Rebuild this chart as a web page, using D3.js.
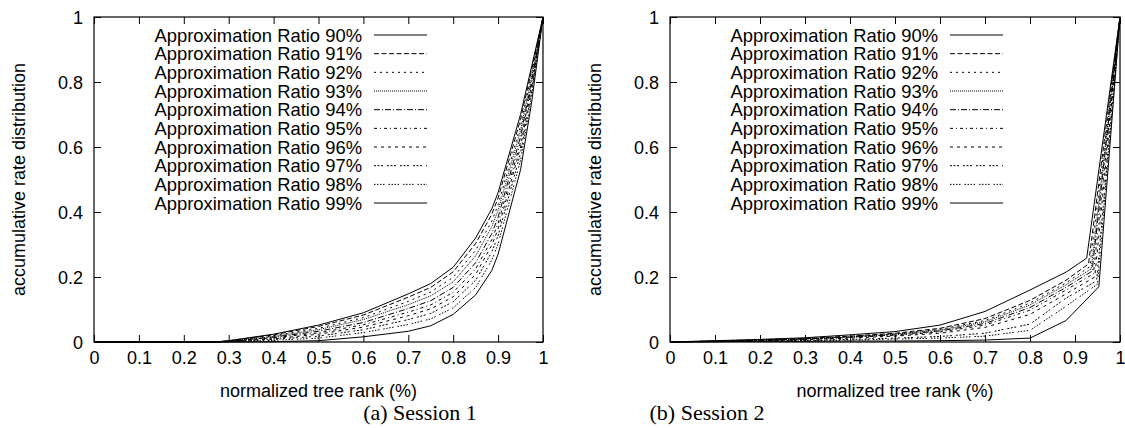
<!DOCTYPE html>
<html>
<head>
<meta charset="utf-8">
<script src="https://cdn.jsdelivr.net/npm/d3@7"></script>
<style>
  html, body { margin: 0; padding: 0; background: #fff; }
  svg { display: block; }
  text { font-family: "Liberation Sans", Arial, sans-serif; fill: #000; }
  .caption { font-family: "Liberation Serif", "Times New Roman", serif; }
</style>
</head>
<body>
<svg id="chart" width="1125" height="428"></svg>
<script>
// ---- data -------------------------------------------------------------
const ratios = [90, 91, 92, 93, 94, 95, 96, 97, 98, 99];
const xTicks = [0, 0.1, 0.2, 0.3, 0.4, 0.5, 0.6, 0.7, 0.8, 0.9, 1];
const yTicks = [0, 0.2, 0.4, 0.6, 0.8, 1];

// Session 1: normalized tree rank grid and accumulative rate per ratio
const rankS1 = [0, 0.1, 0.2, 0.27, 0.3, 0.4, 0.5, 0.6, 0.7, 0.75, 0.8, 0.85, 0.886, 0.9, 0.95, 0.975, 1];
const s1_90 = [0, 0, 0, 0, 0.004, 0.024, 0.052, 0.090, 0.148, 0.180, 0.230, 0.320, 0.410, 0.460, 0.700, 0.850, 1];
const s1_91 = [0, 0, 0, 0, 0.004, 0.022, 0.048, 0.083, 0.138, 0.168, 0.216, 0.303, 0.393, 0.443, 0.685, 0.840, 1];
const s1_92 = [0, 0, 0, 0, 0.003, 0.019, 0.042, 0.075, 0.125, 0.154, 0.199, 0.282, 0.372, 0.422, 0.666, 0.828, 1];
const s1_93 = [0, 0, 0, 0, 0.003, 0.017, 0.038, 0.069, 0.115, 0.142, 0.185, 0.265, 0.355, 0.405, 0.651, 0.818, 1];
const s1_94 = [0, 0, 0, 0, 0.002, 0.015, 0.033, 0.060, 0.103, 0.127, 0.168, 0.244, 0.334, 0.384, 0.632, 0.806, 1];
const s1_95 = [0, 0, 0, 0, 0.002, 0.013, 0.028, 0.053, 0.092, 0.114, 0.153, 0.225, 0.315, 0.365, 0.615, 0.795, 1];
const s1_96 = [0, 0, 0, 0, 0.002, 0.010, 0.024, 0.046, 0.081, 0.102, 0.139, 0.208, 0.298, 0.348, 0.600, 0.785, 1];
const s1_97 = [0, 0, 0, 0, 0.001, 0.008, 0.018, 0.038, 0.069, 0.088, 0.124, 0.190, 0.277, 0.327, 0.581, 0.773, 1];
const s1_98 = [0, 0, 0, 0, 0.001, 0.005, 0.012, 0.029, 0.054, 0.071, 0.105, 0.168, 0.252, 0.302, 0.559, 0.759, 1];
const s1_99 = [0, 0, 0, 0, 0.000, 0.001, 0.004, 0.016, 0.033, 0.050, 0.085, 0.145, 0.220, 0.270, 0.530, 0.740, 1];

// Session 2: common rank grid up to 0.88, then a per-ratio knee, then (1, 1)
const rankS2 = [0, 0.1, 0.2, 0.3, 0.4, 0.5, 0.6, 0.7, 0.8, 0.88];
const s2_90 = [0, 0.004, 0.008, 0.013, 0.022, 0.032, 0.052, 0.094, 0.160, 0.215];
const s2_91 = [0, 0.003, 0.007, 0.011, 0.018, 0.027, 0.042, 0.072, 0.128, 0.190];
const s2_92 = [0, 0.003, 0.006, 0.010, 0.017, 0.025, 0.039, 0.066, 0.120, 0.182];
const s2_93 = [0, 0.003, 0.006, 0.010, 0.016, 0.024, 0.037, 0.062, 0.114, 0.176];
const s2_94 = [0, 0.002, 0.005, 0.009, 0.015, 0.022, 0.034, 0.057, 0.106, 0.168];
const s2_95 = [0, 0.002, 0.005, 0.008, 0.014, 0.020, 0.031, 0.052, 0.098, 0.160];
const s2_96 = [0, 0.002, 0.004, 0.007, 0.012, 0.018, 0.027, 0.045, 0.085, 0.148];
const s2_97 = [0, 0.001, 0.003, 0.005, 0.008, 0.012, 0.017, 0.027, 0.055, 0.135];
const s2_98 = [0, 0.001, 0.002, 0.004, 0.006, 0.009, 0.012, 0.018, 0.036, 0.110];
const s2_99 = [0, 0.001, 0.002, 0.002, 0.003, 0.003, 0.004, 0.006, 0.012, 0.066];
const kneeRankS2 = [0.926, 0.930, 0.933, 0.936, 0.938, 0.941, 0.944, 0.948, 0.950, 0.953];
const kneeRateS2 = [0.258, 0.240, 0.232, 0.225, 0.218, 0.210, 0.200, 0.188, 0.178, 0.170];

// gnuplot-style dash patterns, one per ratio
const dashes = [null, "5,2.5", "2,4", "1,1", "6,2,1,2", "3,3,1,3", "3,4",
                "2,1.5,2,1.5,2,4", "1.5,1.5,1.5,1.5,1.5,1.5,1.5,4", null];

// ---- series assembly --------------------------------------------------
const s1Rates = [s1_90, s1_91, s1_92, s1_93, s1_94, s1_95, s1_96, s1_97, s1_98, s1_99];
const s2Rates = [s2_90, s2_91, s2_92, s2_93, s2_94, s2_95, s2_96, s2_97, s2_98, s2_99];

const session1 = s1Rates.map(r => rankS1.map((x, i) => [x, r[i]]));
const session2 = s2Rates.map((r, k) => {
  const pts = rankS2.map((x, i) => [x, r[i]]);
  pts.push([kneeRankS2[k], kneeRateS2[k]]);
  pts.push([1, 1]);
  return pts;
});

// ---- drawing ----------------------------------------------------------
const svg = d3.select("#chart");
const plotTop = 17, plotBottom = 342;
const panels = [
  { left: 94, right: 543, series: session1, caption: "(a) Session 1", capX: 420 },
  { left: 670, right: 1120, series: session2, caption: "(b) Session 2", capX: 707 }
];
const tickLen = 7;
const fontSize = 18;
const legendFont = 18.4;

panels.forEach(p => {
  const x = d3.scaleLinear().domain([0, 1]).range([p.left, p.right]);
  const y = d3.scaleLinear().domain([0, 1]).range([plotBottom, plotTop]);
  const g = svg.append("g");

  // axes with inward ticks on all four sides
  const fmt = d => d === 0 ? "0" : d === 1 ? "1" : d3.format(".1f")(d);
  const xB = g.append("g").attr("transform", `translate(0,${plotBottom})`)
    .call(d3.axisBottom(x).tickValues(xTicks).tickSize(-tickLen).tickPadding(9).tickFormat(fmt));
  const xT = g.append("g").attr("transform", `translate(0,${plotTop})`)
    .call(d3.axisTop(x).tickValues(xTicks).tickSize(-tickLen).tickFormat(""));
  const yL = g.append("g").attr("transform", `translate(${p.left},0)`)
    .call(d3.axisLeft(y).tickValues(yTicks).tickSize(-tickLen).tickPadding(11).tickFormat(fmt));
  const yR = g.append("g").attr("transform", `translate(${p.right},0)`)
    .call(d3.axisRight(y).tickValues(yTicks).tickSize(-tickLen).tickFormat(""));
  [xB, xT, yL, yR].forEach(a => {
    a.select(".domain").remove();
    a.selectAll("line").attr("stroke", "#000").attr("stroke-width", 1);
    a.selectAll("text").attr("font-size", fontSize)
      .attr("font-family", '"Liberation Sans", Arial, sans-serif').attr("fill", "#000");
  });
  yL.selectAll("text").attr("dy", "0.36em");

  // frame
  g.append("rect")
    .attr("x", p.left).attr("y", plotTop)
    .attr("width", p.right - p.left).attr("height", plotBottom - plotTop)
    .attr("fill", "none").attr("stroke", "#000").attr("stroke-width", 1.2);

  // curves
  const line = d3.line().x(d => x(d[0])).y(d => y(d[1]));
  p.series.forEach((pts, k) => {
    g.append("path")
      .attr("d", line(pts))
      .attr("fill", "none")
      .attr("stroke", "#000")
      .attr("stroke-width", 1)
      .attr("stroke-dasharray", dashes[k]);
  });

  // legend
  const legTextX = p.left + 268, legX0 = p.left + 280, legX1 = p.left + 333;
  ratios.forEach((r, k) => {
    const cy = 35 + k * 18.67;
    g.append("text")
      .attr("x", legTextX).attr("y", cy).attr("dy", "0.36em")
      .attr("text-anchor", "end").attr("font-size", legendFont)
      .text(`Approximation Ratio ${r}%`);
    g.append("line")
      .attr("x1", legX0).attr("x2", legX1).attr("y1", cy).attr("y2", cy)
      .attr("stroke", "#000").attr("stroke-width", 1)
      .attr("stroke-dasharray", dashes[k]);
  });

  // axis titles
  g.append("text")
    .attr("transform", `translate(${p.left - 75},${(plotTop + plotBottom) / 2}) rotate(-90)`)
    .attr("text-anchor", "middle").attr("dy", "0.36em").attr("font-size", fontSize)
    .text("accumulative rate distribution");
  g.append("text")
    .attr("x", (p.left + p.right) / 2).attr("y", 397)
    .attr("text-anchor", "middle").attr("font-size", fontSize)
    .text("normalized tree rank (%)");

  // sub-figure caption
  g.append("text").attr("class", "caption")
    .attr("x", p.capX).attr("y", 420)
    .attr("text-anchor", "middle").attr("font-size", 22)
    .text(p.caption);
});
</script>
</body>
</html>
